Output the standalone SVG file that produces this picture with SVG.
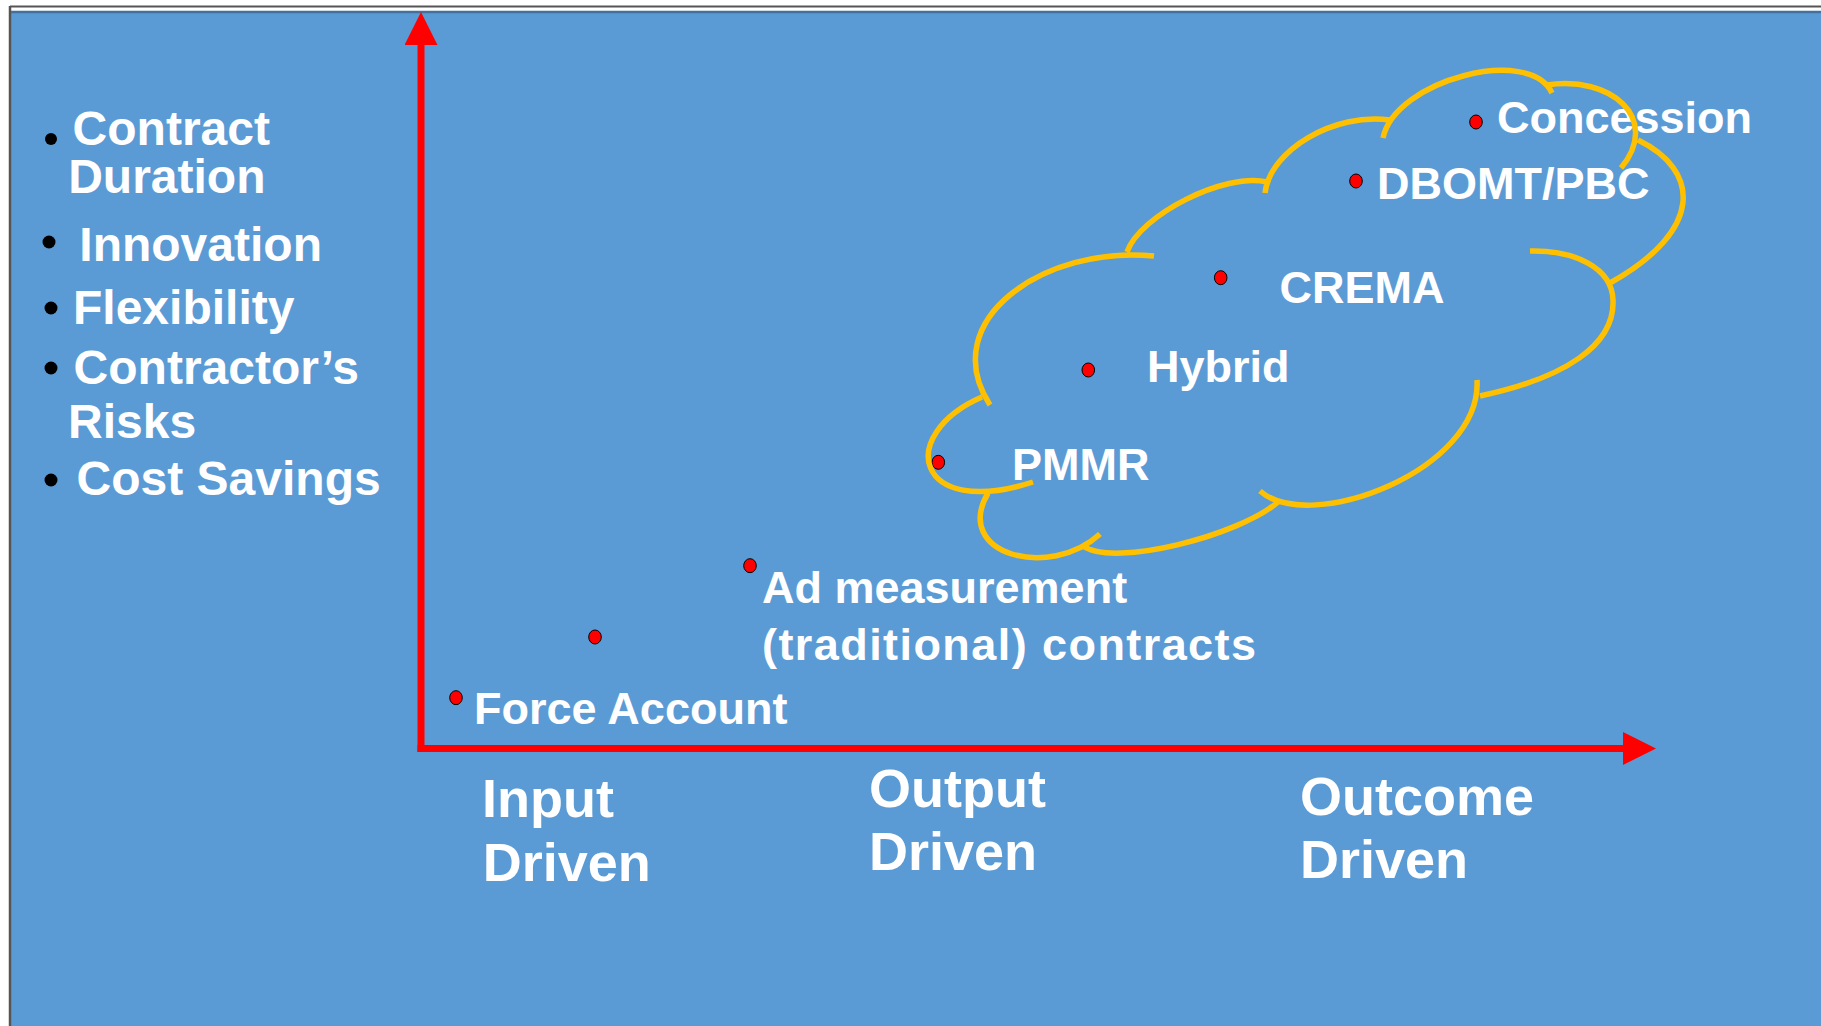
<svg xmlns="http://www.w3.org/2000/svg" width="1821" height="1026" viewBox="0 0 1821 1026">
<style>
.t{font-family:"Liberation Sans",Arial,Helvetica,sans-serif;font-weight:bold;fill:#ffffff}
.lg{font-size:48px}
.md{font-size:45px}
.ax{font-size:54px}
.dot{fill:#ff0000;stroke:#000000;stroke-width:1}
.bul{fill:#000000}
.axis{stroke:#ff0000;stroke-width:7;fill:none;marker-end:url(#arrow)}
.cloud{fill:none;stroke:#ffc000;stroke-width:5.5}
</style>
<defs>
<marker id="arrow" viewBox="0 0 33 33" refX="0" refY="16.5" markerWidth="33" markerHeight="33" markerUnits="userSpaceOnUse" orient="auto">
<path d="M0,0 L33,16.5 L0,33 Z" fill="#ff0000"/>
</marker>
</defs>
<g id="background">
<rect x="0" y="0" width="1821" height="1026" fill="#ffffff"/>
<rect x="11" y="11" width="1810" height="1015" fill="#5b9bd5"/>
<line x1="10" y1="6.5" x2="1821" y2="6.5" stroke="#555555" stroke-width="2"/>
<line x1="10" y1="6" x2="10" y2="1026" stroke="#555555" stroke-width="2.5"/>
<line x1="11" y1="12" x2="1821" y2="12" stroke="#41719c" stroke-width="2.5"/>
</g>
<g id="criteria-list">
<circle class="bul" cx="51" cy="139" r="6"/>
<text class="t lg" x="72.6" y="145">Contract</text>
<text class="t lg" x="68.2" y="193.3">Duration</text>
<circle class="bul" cx="49" cy="242" r="6.5"/>
<text class="t lg" x="79.3" y="261">Innovation</text>
<circle class="bul" cx="51" cy="308" r="6.5"/>
<text class="t lg" x="73" y="324">Flexibility</text>
<circle class="bul" cx="51" cy="368" r="6.5"/>
<text class="t lg" x="73.6" y="384">Contractor’s</text>
<text class="t lg" x="68" y="438">Risks</text>
<circle class="bul" cx="51" cy="480" r="6.5"/>
<text class="t lg" x="76.6" y="495">Cost Savings</text>
</g>
<g id="connectors">
<line class="axis" x1="421" y1="752" x2="421" y2="45"/>
<line class="axis" x1="417.5" y1="748.5" x2="1623" y2="748.5"/>
</g>
<g id="axis-labels">
<text class="t ax" x="482" y="816.7">Input</text>
<text class="t ax" x="482.7" y="880.7">Driven</text>
<text class="t ax" x="869" y="807">Output</text>
<text class="t ax" x="869" y="870">Driven</text>
<text class="t ax" x="1300" y="815">Outcome</text>
<text class="t ax" x="1300" y="878">Driven</text>
</g>
<g id="node-force-account">
<ellipse class="dot" cx="456" cy="697.7" rx="6.3" ry="7"/>
<text class="t md" x="474" y="724">Force Account</text>
</g>
<g id="node-unlabelled">
<ellipse class="dot" cx="595" cy="637" rx="6.3" ry="7"/>
</g>
<g id="node-ad-measurement">
<ellipse class="dot" cx="750" cy="565.7" rx="6.3" ry="7"/>
<text class="t md" x="762" y="603.3">Ad measurement</text>
<text class="t md" x="762" y="660" textLength="494" lengthAdjust="spacing">(traditional) contracts</text>
</g>
<g id="node-pmmr">
<ellipse class="dot" cx="938.3" cy="462.3" rx="6.3" ry="7"/>
<text class="t md" x="1012" y="480">PMMR</text>
</g>
<g id="node-hybrid">
<ellipse class="dot" cx="1088.3" cy="370" rx="6.3" ry="7"/>
<text class="t md" x="1147" y="381.7">Hybrid</text>
</g>
<g id="node-crema">
<ellipse class="dot" cx="1220.7" cy="277.7" rx="6.3" ry="7"/>
<text class="t md" x="1279.5" y="302.7">CREMA</text>
</g>
<g id="node-dbomt-pbc">
<ellipse class="dot" cx="1356" cy="181" rx="6.3" ry="7"/>
<text class="t md" x="1377" y="198.5">DBOMT/PBC</text>
</g>
<g id="node-concession">
<ellipse class="dot" cx="1476" cy="122" rx="6.3" ry="7"/>
<text class="t md" x="1497" y="133">Concession</text>
</g>
<g id="cloud">
<path class="cloud" d="M990,405 C935,320 1045,245 1154,256
M1127,252 C1140,215 1225,172 1267,182
M1265,193 C1270,150 1335,112 1390,120
M1383,138 C1395,80 1530,45 1552,93
M1547,85 C1610,75 1662,118 1621,168
M1638,140 C1700,170 1705,230 1610,283
M1530,251 C1575,250 1612,268 1613,300 C1615,345 1565,378 1480,396
M1477,380 C1482,470 1310,535 1260,491
M1278,502 C1240,535 1115,568 1083,546
M988,493 C952,555 1050,580 1100,534
M982,397 C895,435 915,520 1033,482"/>
</g>
</svg>
